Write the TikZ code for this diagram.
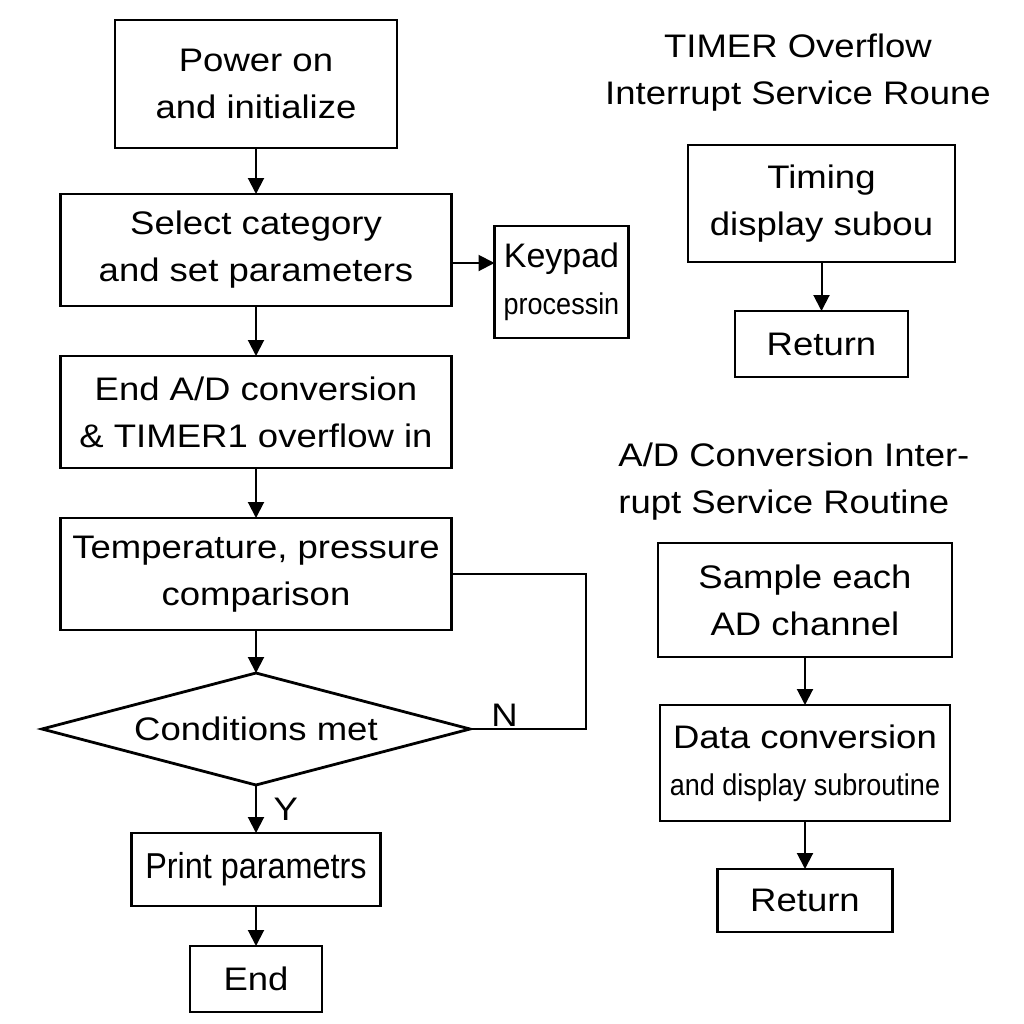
\documentclass[tikz,border=0pt]{standalone}
\usepackage{fontspec}
\setmainfont{Liberation Sans}[FakeStretch=1.12]
\newfontfamily\condfont{Liberation Sans}[FakeStretch=0.9]
\newfontfamily\plainfont{Liberation Sans}
\usetikzlibrary{shapes.geometric, arrows.meta, positioning}
\newcommand\boxfont{\fontsize{16.3}{23.5}\selectfont}
\newcommand\smallfont{\fontsize{15}{23}\selectfont\condfont}
\tikzset{
  block/.style = {rectangle, draw=black, line width=1.4pt, align=center, inner sep=2pt, outer sep=0pt, font=\boxfont},
  decision/.style = {diamond, aspect=3.8, draw=black, line width=1.4pt, align=center, inner sep=0pt, outer sep=0pt, font=\boxfont},
  title/.style = {align=center, inner sep=0pt, font=\boxfont},
  line/.style = {-{Triangle[length=8pt,width=8pt]}, line width=1pt},
  conn/.style = {line width=1pt}
}
\begin{document}
\begin{tikzpicture}[x=0.5pt, y=-0.5pt, node distance=24pt]
\useasboundingbox (0,0) rectangle (1024,1024);

% Main program
\node[block, minimum width=141pt, minimum height=64pt] (power) at (256,84) {Power on\\and initialize};

\node[block, below=23pt of power, minimum width=195.5pt, minimum height=56pt] (select) {Select category\\and set parameters};

\node[block, below right=16pt and 21.5pt of select.north east, minimum width=67pt, minimum height=56pt] (keypad) {{\fontsize{17}{23.5}\selectfont\plainfont Keypad}\\{\smallfont processin}};

\node[block, below=25pt of select, minimum width=195.5pt, minimum height=56pt] (endad) {End A/D conversion\\\& TIMER1 overflow in};

\node[block, below=25pt of endad, minimum width=195.5pt, minimum height=56pt] (temp) {Temperature, pressure\\comparison};

\node[decision, below=21.5pt of temp, minimum width=214pt, minimum height=56pt] (cond) {Conditions met};

\node[block, below=24pt of cond, minimum width=124.5pt, minimum height=36.5pt, font=\fontsize{18}{23}\selectfont\condfont] (print) {Print parametrs};

\node[block, below=20pt of print, minimum width=66pt, minimum height=33pt] (finish) {End};

% TIMER interrupt routine
\node[title] (timertitle) at (798,73) {TIMER Overflow\\Interrupt Service Roune};

\node[block, minimum width=133.5pt, minimum height=58.5pt] (timing) at (821.5,203.5) {Timing\\display subou};

\node[block, below=24.5pt of timing, minimum width=86.5pt, minimum height=33pt] (ret1) {Return};

% A/D interrupt routine
\node[title, align=left, anchor=west] (adtitle) at (618,482) {A/D Conversion Inter-\\rupt Service Routine};

\node[block, minimum width=147pt, minimum height=57pt] (sample) at (805,600) {Sample each\\AD channel};

\node[block, below=24pt of sample, minimum width=145pt, minimum height=58pt] (data) {Data conversion\\{\smallfont and display subroutine}};

\node[block, below=24pt of data, minimum width=87.5pt, minimum height=31.5pt] (ret2) {Return};

% Connections
\draw[line] (power) -- (select);
\draw[line] ([yshift=9.5pt]keypad.west -| select.east) -- ([yshift=9.5pt]keypad.west);
\draw[line] (select) -- (endad);
\draw[line] (endad) -- (temp);
\draw[line] (temp) -- (cond);
\draw[conn] (temp.east) -- ++(134,0) |- (cond.east) node[pos=0.85, above, inner sep=1pt, font=\boxfont] {N};
\draw[line] (cond) -- (print) node[midway, right=5pt, font=\boxfont] {Y};
\draw[line] (print) -- (finish);

\draw[line] (timing) -- (ret1);
\draw[line] (sample) -- (data);
\draw[line] (data) -- (ret2);

\end{tikzpicture}
\end{document}
